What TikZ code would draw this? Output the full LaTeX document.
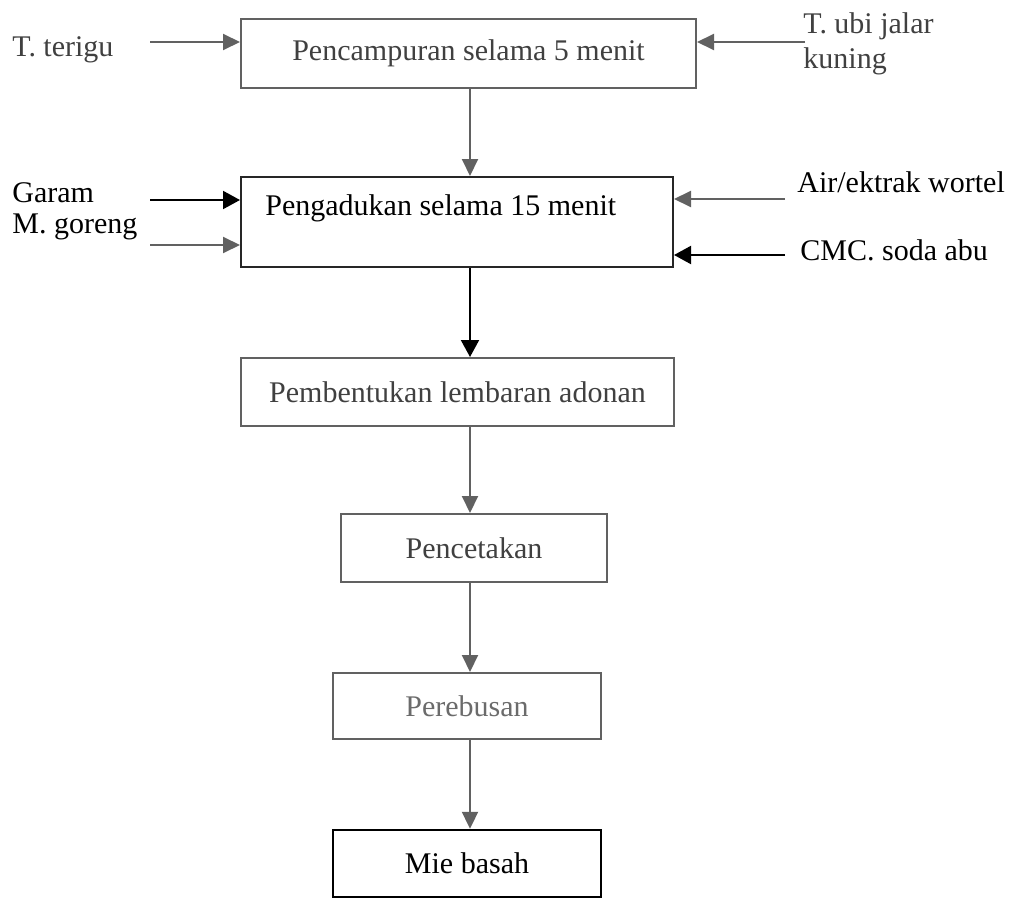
\documentclass[tikz,border=0pt]{standalone}
\usepackage{fontspec}
\setmainfont{Liberation Serif}
\usetikzlibrary{arrows.meta}
\definecolor{lineg}{gray}{0.38}
\definecolor{txtd}{gray}{0.25}
\definecolor{txtl}{gray}{0.42}
\begin{document}
\begin{tikzpicture}[x=0.5pt,y=-0.5pt,font=\fontsize{15}{17.5}\selectfont,
  box/.style={draw=lineg,line width=1pt,inner sep=0pt},
  arr/.style={draw=lineg,line width=1pt,-{Triangle[length=8.5pt,width=8pt]}},
  arrk/.style={draw=black,line width=1pt,-{Triangle[length=8.5pt,width=9pt]}},
  lbl/.style={anchor=base west,inner sep=0pt}]
  \useasboundingbox (0,0) rectangle (1022,899);
  % sumbu panah tengah
  \coordinate (axis) at (470,0);
  % kotak proses
  \node[box,minimum width=227.5pt,minimum height=34.5pt,text=txtd]
    (b1) at (468.5,53.5) {Pencampuran selama 5 menit};
  \node[box,draw=black!85,minimum width=216pt,minimum height=45pt]
    (b2) at (457,222) {};
  \node[lbl] (t2) at (265,215) {Pengadukan selama 15 menit};
  \node[box,minimum width=216.5pt,minimum height=34pt,text=txtd]
    (b3) at (457.5,392) {Pembentukan lembaran adonan};
  \node[box,minimum width=133pt,minimum height=34pt,text=txtd]
    (b4) at (474,548) {Pencetakan};
  \node[box,minimum width=134pt,minimum height=33pt,text=txtl]
    (b5) at (467,706) {Perebusan};
  \node[box,draw=black,line width=1.2pt,minimum width=134pt,minimum height=33.5pt]
    (b6) at (467,863.5) {Mie basah};
  % bahan masuk kiri
  \node[lbl,text=txtd] (terigu) at (12,57) {T. terigu};
  \node[lbl] (garam) at (12,202) {Garam};
  \node[lbl] (goreng) at (12,233) {M. goreng};
  \coordinate (in1) at (150,42);
  \coordinate (in2) at (150,200);
  \coordinate (in3) at (150,245);
  % bahan masuk kanan
  \node[anchor=north west,inner sep=0pt,align=left,text=txtd] (ubi) at (803,12)
    {T. ubi jalar\\kuning};
  \node[lbl] (air) at (797,192) {Air/ektrak wortel};
  \node[lbl] (cmc) at (800,260) {CMC. soda abu};
  \coordinate (in4) at (805,42);
  \coordinate (in5) at (785,199);
  \coordinate (in6) at (785,255);
  % panah masuk
  \draw[arr] (in1) -- (in1 -| b1.west);
  \draw[arrk] (in2) -- (in2 -| b2.west);
  \draw[arr] (in3) -- (in3 -| b2.west);
  \draw[arr] (in4) -- (in4 -| b1.east);
  \draw[arr] (in5) -- (in5 -| b2.east);
  \draw[arrk] (in6) -- (in6 -| b2.east);
  % alur proses
  \draw[arr] (b1.south -| axis) -- (b2.north -| axis);
  \draw[arrk] (b2.south -| axis) -- (b3.north -| axis);
  \draw[arr] (b3.south -| axis) -- (b4.north -| axis);
  \draw[arr] (b4.south -| axis) -- (b5.north -| axis);
  \draw[arr] (b5.south -| axis) -- (b6.north -| axis);
\end{tikzpicture}
\end{document}
